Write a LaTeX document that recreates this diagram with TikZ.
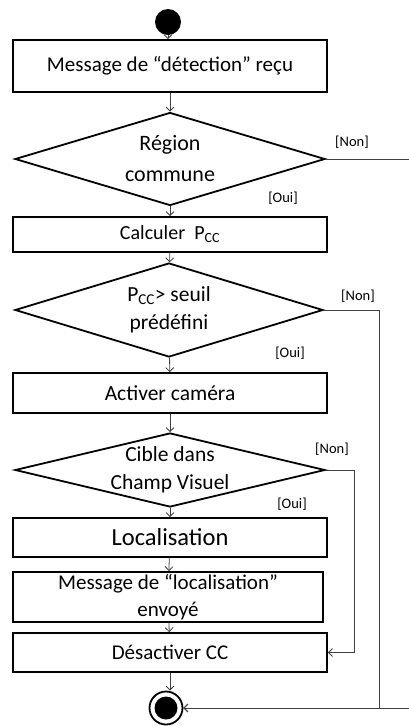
\documentclass[tikz,border=0pt]{standalone}
\usepackage{fontspec}
\setmainfont{Carlito}
\usetikzlibrary{arrows, arrows.meta, shapes.geometric}

\begin{document}
\begin{tikzpicture}[x=1pt, y=-1pt,
	            etape/.style={
	            draw,
	            line width=1.8pt,
	            rectangle,
	            align=center,
	            inner sep=0pt,
	            minimum width=314pt,
	            font=\fontsize{21}{27}\selectfont
	            },
	            choix/.style={
	            draw,
	            line width=1.8pt,
	            diamond,
	            aspect=3.3,
	            align=center,
	            inner sep=-10pt,
	            font=\fontsize{21.5}{28}\selectfont
	            },
	            garde/.style={
	            font=\fontsize{14.5}{16}\selectfont
	            },
	            >={Straight Barb[length=4pt, width=8pt]},
	            fleche/.style={
                    draw,
                    ->,
                    black!75,
                    line width=0.8pt
                }]

	        \useasboundingbox (0,0) rectangle (409,726);

	        \node[circle, fill, inner sep=0pt, minimum size=26pt] (debut) at (168,22) {};
	        \node[etape, minimum height=52pt] (detect) at (170,66) {Message de “détection” reçu};
	        \node[choix, minimum width=310pt, minimum height=93pt, font=\fontsize{22}{31}\selectfont] (region) at (170,159) {Région\\commune};
	        \node[etape, minimum height=35pt, font=\fontsize{20}{22}\selectfont] (calcul) at (170,234.5) {Calculer \ P\textsubscript{CC}};
	        \node[choix, minimum width=308pt, minimum height=94pt] (seuil) at (169,310) {P\textsubscript{CC}> seuil\\prédéfini};
	        \node[etape, minimum height=40pt, font=\fontsize{21.5}{24}\selectfont] (camera) at (170,393) {Activer caméra};
	        \node[choix, minimum width=310pt, minimum height=74pt] (cible) at (170,470) {Cible dans\\Champ Visuel};
	        \node[etape, minimum height=39pt, font=\fontsize{24.5}{26}\selectfont] (loc) at (170,537.5) {Localisation};
	        \node[etape, minimum width=310pt, minimum height=50pt, inner ysep=-6pt] (envoi) at (168,597) {Message de “localisation”\\envoyé};
	        \node[etape, minimum height=39pt] (desact) at (170,652.5) {Désactiver CC};
	        \node[circle, draw, line width=1.8pt, inner sep=0pt, minimum size=33pt] (fin) at (166,708) {};
	        \fill (fin) circle (11.5);

	        \coordinate (sortieA) at (409,159);
	        \coordinate (sortieB) at (409,708);

	        \draw[fleche] (debut) -- (debut |- detect.north);
	        \draw[fleche] (detect) -- (region);
	        \draw[fleche] (region) -- (calcul);
	        \draw[fleche] (calcul) -- (seuil);
	        \draw[fleche] (seuil) -- (camera);
	        \draw[fleche] (camera) -- (cible);
	        \draw[fleche] (cible) -- (loc);
	        \draw[fleche] (loc) -- (envoi);
	        \draw[fleche] (envoi) -- (desact);
	        \draw[fleche] (desact) -- (desact |- fin.north);

	        \draw[fleche, -] (region.east) -- (sortieA);
	        \draw[fleche] (sortieB) -- (fin.east);
	        \draw[fleche] (seuil.east) -- ++(55,0) |- (fin.east);
	        \draw[fleche] (cible.east) -- ++(28,0) |- (desact.east);

	        \node[garde] at (352,142) {[Non]};
	        \node[garde] at (283,198) {[Oui]};
	        \node[garde] at (358,296) {[Non]};
	        \node[garde] at (290,353) {[Oui]};
	        \node[garde] at (332,449) {[Non]};
	        \node[garde] at (292,504) {[Oui]};

	    \end{tikzpicture}
\end{document}
